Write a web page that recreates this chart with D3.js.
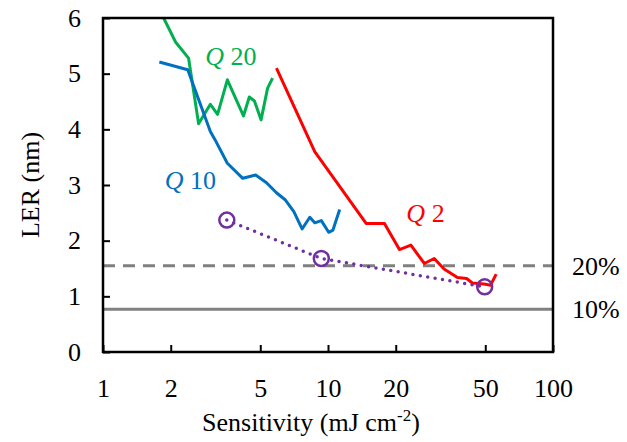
<!DOCTYPE html>
<html>
<head>
<meta charset="utf-8">
<script src="https://cdn.jsdelivr.net/npm/d3@7"></script>
<style>
  body { margin: 0; background: #fff; }
  text { font-family: "Liberation Serif", "Times New Roman", serif; }
</style>
</head>
<body>
<svg id="chart" width="627" height="442"></svg>
<script>
// Q 20 series (green)
var q20X = [1.86, 2.10, 2.40, 2.66, 3.00, 3.23, 3.57, 4.21, 4.47, 4.71, 5.04, 5.39, 5.67];
var q20Y = [6.00, 5.57, 5.28, 4.10, 4.45, 4.27, 4.89, 4.24, 4.58, 4.51, 4.17, 4.74, 4.92];
// Q 10 series (blue)
var q10X = [1.78, 2.38, 3.00, 3.15, 3.57, 4.18, 4.77, 5.33, 5.90, 6.47, 7.05, 7.67, 8.30, 8.73, 9.34, 10.07, 10.52, 11.27];
var q10Y = [5.21, 5.07, 3.96, 3.81, 3.39, 3.12, 3.18, 3.04, 2.86, 2.73, 2.52, 2.21, 2.42, 2.32, 2.36, 2.15, 2.19, 2.56];
// Q 2 series (red)
var q2X = [5.90, 8.73, 14.77, 17.82, 20.77, 23.36, 26.78, 29.65, 32.8, 37.6, 41.3, 43.8, 49.4, 52.8, 55.9];
var q2Y = [5.10, 3.60, 2.31, 2.31, 1.84, 1.92, 1.59, 1.68, 1.49, 1.34, 1.32, 1.24, 1.22, 1.20, 1.40];
// marked points (purple, dotted)
var markX = [3.55, 9.34, 49.7];
var markY = [2.37, 1.68, 1.17];
// reference lines
var refValues = [1.55, 0.77];
var refLabels = ["20%", "10%"];

var xTicks = [1, 2, 5, 10, 20, 50, 100];
var yTicks = [0, 1, 2, 3, 4, 5, 6];

var margin = {top: 18, right: 74, bottom: 90, left: 103},
    width = 627 - margin.left - margin.right,
    height = 442 - margin.top - margin.bottom;

var svg = d3.select("#chart")
  .append("g")
    .attr("transform", "translate(" + margin.left + "," + margin.top + ")");

var x = d3.scaleLog().domain([1, 100]).range([0, width]);
var y = d3.scaleLinear().domain([0, 6]).range([height, 0]);

function zip(xs, ys) {
  return xs.map(function(d, i) { return {x: d, y: ys[i]}; });
}

// reference lines
var refStyles = [{dash: "12,8"}, {dash: null}];
refValues.forEach(function(v, i) {
  svg.append("line")
    .attr("x1", 0).attr("x2", width)
    .attr("y1", y(v)).attr("y2", y(v))
    .attr("stroke", "#808080")
    .attr("stroke-width", 3)
    .attr("stroke-dasharray", refStyles[i].dash);
  svg.append("text")
    .attr("x", width + 19)
    .attr("y", y(v) + 9)
    .attr("font-size", 26)
    .text(refLabels[i]);
});

var line = d3.line().x(d => x(d.x)).y(d => y(d.y));

var series = [
  {data: zip(q20X, q20Y), color: "#00B050"},
  {data: zip(q10X, q10Y), color: "#0070C0"},
  {data: zip(q2X, q2Y), color: "#FF0000"}
];
series.forEach(function(s) {
  svg.append("path")
    .datum(s.data)
    .attr("d", line)
    .attr("fill", "none")
    .attr("stroke", s.color)
    .attr("stroke-width", 3)
    .attr("stroke-linejoin", "round");
});

var marks = zip(markX, markY);
svg.append("path")
  .datum(marks)
  .attr("d", line)
  .attr("fill", "none")
  .attr("stroke", "#7030A0")
  .attr("stroke-width", 3.5)
  .attr("stroke-linecap", "round")
  .attr("stroke-dasharray", "0,7.5");
svg.selectAll(".mark")
  .data(marks)
  .join("circle")
    .attr("class", "mark")
    .attr("cx", d => x(d.x))
    .attr("cy", d => y(d.y))
    .attr("r", 7.5)
    .attr("fill", "none")
    .attr("stroke", "#7030A0")
    .attr("stroke-width", 2.5);

// series labels
var seriesLabels = [
  {num: "20", xv: 2.85, yv: 5.16, color: "#00B050"},
  {num: "10", xv: 1.88, yv: 2.93, color: "#0070C0"},
  {num: "2", xv: 22.3, yv: 2.34, color: "#FF0000"}
];
seriesLabels.forEach(function(l) {
  var t = svg.append("text")
    .attr("x", x(l.xv))
    .attr("y", y(l.yv))
    .attr("font-size", 26)
    .attr("fill", l.color);
  t.append("tspan").attr("font-style", "italic").text("Q");
  t.append("tspan").text(" " + l.num);
});

// axes frame
svg.append("rect")
  .attr("width", width).attr("height", height)
  .attr("fill", "none")
  .attr("stroke", "#000")
  .attr("stroke-width", 2.5);

var xAxis = svg.append("g")
  .attr("transform", "translate(0," + height + ")")
  .call(d3.axisBottom(x).tickValues(xTicks).tickFormat(d3.format("d")).tickSize(-7).tickPadding(27));
xAxis.select(".domain").remove();
xAxis.selectAll("line").attr("stroke-width", 2);
xAxis.selectAll("text").attr("font-size", 26).attr("fill", "#000");

var yAxis = svg.append("g")
  .call(d3.axisLeft(y).tickValues(yTicks).tickFormat(d3.format("d")).tickSize(-7).tickPadding(22));
yAxis.select(".domain").remove();
yAxis.selectAll("line").attr("stroke-width", 2);
yAxis.selectAll("text").attr("font-size", 26).attr("fill", "#000");

// axis titles
var xt = svg.append("text")
  .attr("x", width / 2 - 17)
  .attr("y", height + 79)
  .attr("text-anchor", "middle")
  .attr("font-size", 26);
xt.append("tspan").text("Sensitivity (mJ cm");
xt.append("tspan").attr("font-size", 17).attr("dy", -10).text("-2");
xt.append("tspan").attr("dy", 10).text(")");

svg.append("text")
  .attr("transform", "translate(" + (-64) + "," + (height / 2) + ") rotate(-90)")
  .attr("text-anchor", "middle")
  .attr("font-size", 26)
  .text("LER (nm)");
</script>
</body>
</html>
